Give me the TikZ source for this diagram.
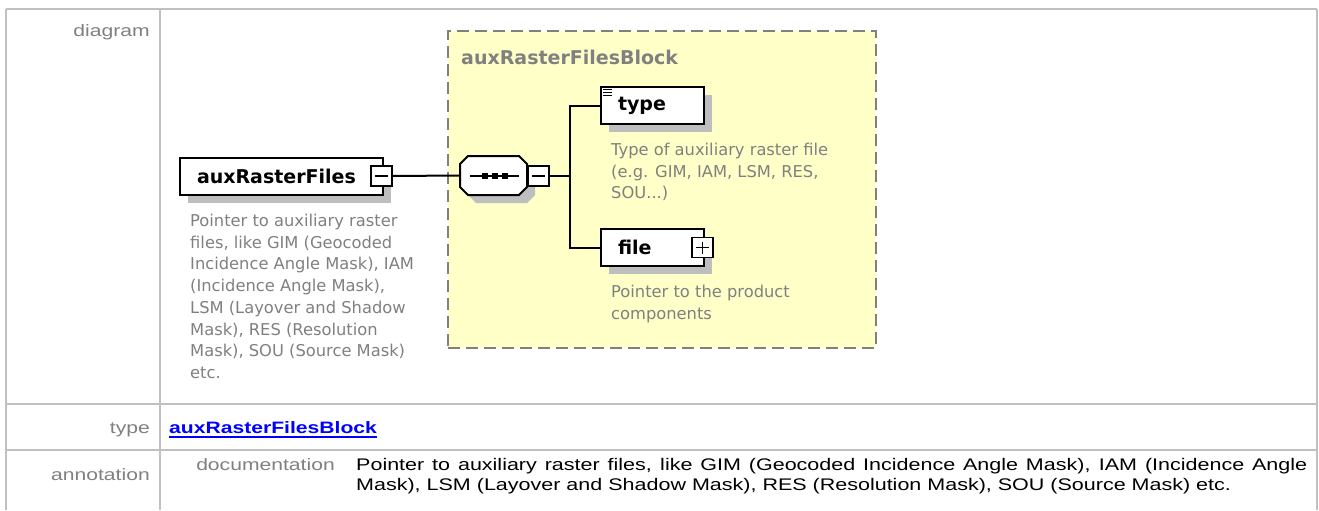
\documentclass[tikz,border=0pt]{standalone}
\usepackage{fontspec}
\setmainfont{Liberation Sans}
\newfontfamily\tabfont[FakeStretch=1.28]{Liberation Sans}
\newfontfamily\diafont{DejaVu Sans}
\usetikzlibrary{shadows}
\usetikzlibrary{positioning}
\definecolor{rulegray}{HTML}{C0C0C0}
\definecolor{labelgray}{HTML}{808080}
\definecolor{blockyellow}{HTML}{FFFFC8}
\definecolor{shadowgray}{HTML}{BEBEBE}

\begin{document}
\begin{tikzpicture}[x=1pt, y=-1pt,
  rule/.style={rulegray, line width=2pt},
  rowlabel/.style={anchor=base east, inner sep=0, text=labelgray, font=\tabfont\fontsize{16.5}{20}\selectfont},
  shade/.style={drop shadow={shadow xshift=8pt, shadow yshift=-8pt, fill=shadowgray, opacity=1}},
  elembox/.style={draw, line width=2pt, fill=white, anchor=north west, minimum height=37pt, inner xsep=17pt, inner ysep=0, align=left, font=\diafont\bfseries\fontsize{19}{20}\selectfont, shade},
  desc/.style={anchor=north west, inner sep=0, align=left, text=labelgray, font=\diafont\fontsize{16.3}{21.7}\selectfont},
  minusbox/.style={draw, line width=1.5pt, fill=white, minimum width=21pt, minimum height=20pt, inner sep=0,
    path picture={\draw[line width=1.5pt] ([xshift=4pt]path picture bounding box.west) -- ([xshift=-4pt]path picture bounding box.east);}},
  plusbox/.style={draw, line width=1.5pt, fill=white, minimum width=21pt, minimum height=20pt, inner sep=0,
    path picture={\draw[line width=1.5pt] ([xshift=4pt]path picture bounding box.west) -- ([xshift=-4pt]path picture bounding box.east)
      ([yshift=-4pt]path picture bounding box.north) -- ([yshift=4pt]path picture bounding box.south);}},
  link/.style={line width=2pt}]
  \fill[white] (0,0) rectangle (1319,510);
  % table
  \draw[rule] (6,9) -- (1317,9);
  \draw[rule] (6,9) -- (6,510);
  \draw[rule] (1317,9) -- (1317,510);
  \draw[rule] (160,9) -- (160,510);
  \draw[rule] (6,404) -- (1317,404);
  \draw[rule] (6,450) -- (1317,450);
  \node[rowlabel] (diagramLbl) at (150,37) {diagram};
  \node[rowlabel] (typeLbl) at (150,433) {type};
  \node[rowlabel] (annotLbl) at (150,480) {annotation};
  \node[rowlabel] (docLbl) at (335,470) {documentation};
  \node[anchor=base west, inner sep=0, text=blue, font=\tabfont\bfseries\fontsize{16.5}{20}\selectfont] (typeLink) at (169,433) {auxRasterFilesBlock};
  \draw[blue, line width=1.5pt] ([yshift=-4pt]typeLink.base west) -- ([yshift=-4pt]typeLink.base east);
  \node[anchor=north west, inner sep=0, text width=951pt, align=justify, font=\tabfont\fontsize{16.8}{20.5}\selectfont] (docText) at (356,458)
    {Pointer to auxiliary raster files, like GIM (Geocoded Incidence Angle Mask), IAM (Incidence Angle\linebreak Mask), LSM (Layover and Shadow Mask), RES (Resolution Mask), SOU (Source Mask) etc.};
  % diagram
  \node[fill=blockyellow, draw=labelgray, line width=2pt, dash pattern=on 12pt off 6pt, anchor=north west, minimum width=428pt, minimum height=317pt, inner sep=0] (block) at (447,30) {};
  \node[anchor=base west, inner sep=0, text=labelgray, font=\diafont\bfseries\fontsize{19}{20}\selectfont] (blockTitle) at (461,64) {auxRasterFilesBlock};
  \node[elembox, text width=169pt] (elem) at (179,157) {auxRasterFiles};
  \node[minusbox] (elemMinus) at (381.5,176) {};
  \node[desc] (elemDesc) at (190,214) {Pointer to auxiliary raster\\files, like GIM (Geocoded\\Incidence Angle Mask), IAM\\(Incidence Angle Mask),\\LSM (Layover and Shadow\\Mask), RES (Resolution\\Mask), SOU (Source Mask)\\etc.};
  % sequence compositor
  \fill[shadowgray, xshift=8pt, yshift=-8pt] (468,156) -- (519,156) -- (527,164) -- (527,187) -- (519,195) -- (468,195) -- (460,187) -- (460,164) -- cycle;
  \filldraw[fill=white, line width=2pt] (468,156) -- (519,156) -- (527,164) -- (527,187) -- (519,195) -- (468,195) -- (460,187) -- (460,164) -- cycle;
  \node[minimum width=67pt, minimum height=39pt, inner sep=0] (seq) at (493.5,175.5) {};
  \draw[line width=1.5pt] (470,176) -- (519,176);
  \foreach \sx in {482,492,502}
    \fill (\sx,173) rectangle +(6,6);
  \node[minusbox] (seqMinus) at (538.5,176) {};
  \coordinate (fork) at (570,176);
  \node[elembox, text width=69pt] (typeElem) at (600,86) {type};
  \foreach \dy in {3,6,9}
    \draw[line width=1pt] ([xshift=3pt, yshift=-\dy pt]typeElem.north west) -- +(9pt,0);
  \node[desc] (typeDesc) at (611,143) {Type of auxiliary raster file\\(e.g. GIM, IAM, LSM, RES,\\SOU...)};
  \node[elembox, text width=69pt] (fileElem) at (600,228) {file};
  \node[plusbox] (filePlus) at (702.5,247.5) {};
  \node[desc] (fileDesc) at (611,285) {Pointer to the product\\components};
  \draw[link] (elemMinus.east) -- (seq.west);
  \draw[link] (seqMinus.east) -- (fork);
  \draw[link] (typeElem.west) -| (fork) |- (fileElem.west);
\end{tikzpicture}
\end{document}
